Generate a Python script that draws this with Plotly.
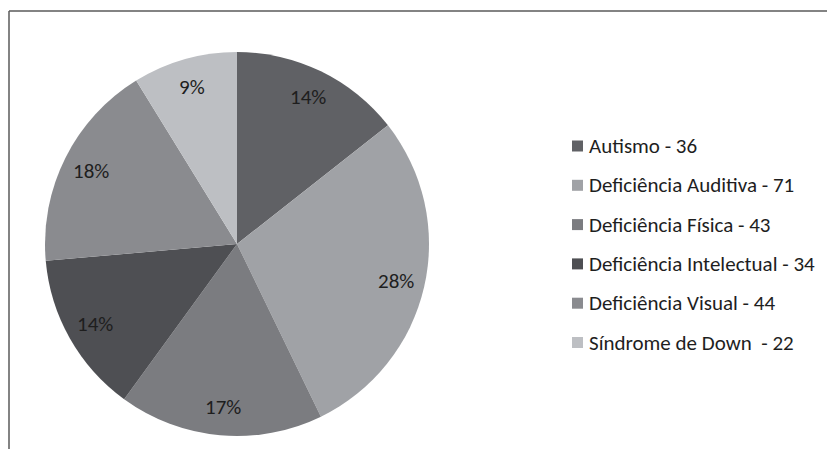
import math
import plotly.graph_objects as go

labels = ["Autismo", "Deficiência Auditiva", "Deficiência Física",
          "Deficiência Intelectual", "Deficiência Visual", "Síndrome de Down "]
values = [36, 71, 43, 34, 44, 22]
colors = ["#606165", "#a0a2a6", "#7b7c80", "#4e4f53", "#8a8b8f", "#bdbfc3"]

W, H = 835, 449
OX, OY = 8, 8  # page body margin
FONT = "Carlito, Lato, 'Liberation Sans Narrow', sans-serif"
FS = 21

cx, cy, r = 237 - OX, 244 - OY, 192


def px(x):
    return x / W


def py(y):
    return 1 - y / H


fig = go.Figure()
fig.add_trace(go.Pie(
    labels=labels, values=values, sort=False, direction="clockwise",
    rotation=0, marker=dict(colors=colors, line=dict(width=0)),
    textinfo="none",
    domain=dict(x=[px(cx - r), px(cx + r)], y=[py(cy + r), py(cy - r)]),
    showlegend=False, hoverinfo="label+value+percent",
))

shapes = [
    dict(type="line", xref="paper", yref="paper", x0=px(9 - OX), x1=1, y0=py(11 - OY), y1=py(11 - OY),
         line=dict(color="#5a5a5a", width=1.5)),
    dict(type="line", xref="paper", yref="paper", x0=px(9 - OX), x1=px(9 - OX), y0=0, y1=py(11 - OY),
         line=dict(color="#5a5a5a", width=1.5)),
]
annotations = []

# percentage labels placed along each slice's mid-angle
total = sum(values)
cum = 0
for val in values:
    mid = (cum + val / 2) / total * 2 * math.pi
    cum += val
    lx = cx + 0.85 * r * math.sin(mid)
    ly = cy - 0.85 * r * math.cos(mid)
    annotations.append(dict(xref="paper", yref="paper", x=px(lx), y=py(ly),
                            xanchor="center", yanchor="middle", showarrow=False,
                            text=f"{round(val / total * 100)}%",
                            font=dict(family=FONT, size=FS, color="#1e1e1e")))

# legend
y0, dy = 146 - OY, 39.3
for i, (lab, val, col) in enumerate(zip(labels, values, colors)):
    yc = y0 + i * dy
    shapes.append(dict(type="rect", xref="paper", yref="paper",
                       x0=px(572 - OX), x1=px(583 - OX), y0=py(yc + 5.5), y1=py(yc - 5.5),
                       fillcolor=col, line=dict(width=0)))
    annotations.append(dict(xref="paper", yref="paper", x=px(587 - OX), y=py(yc),
                            xanchor="left", yanchor="middle", showarrow=False,
                            text=f"{lab} - {val}",
                            font=dict(family=FONT, size=FS, color="#1e1e1e")))

fig.update_layout(width=W, height=H, margin=dict(l=0, r=0, t=0, b=0),
                  paper_bgcolor="white", plot_bgcolor="white",
                  shapes=shapes, annotations=annotations)
fig.write_html("out.html")
